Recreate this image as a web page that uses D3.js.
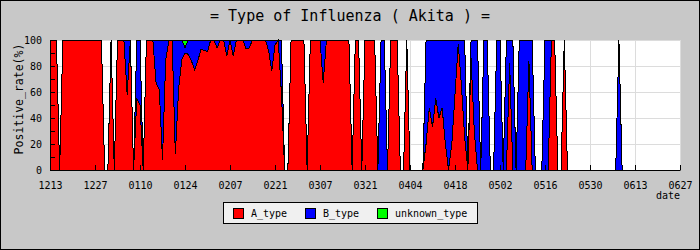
<!DOCTYPE html>
<html><head><meta charset="utf-8">
<script src="https://cdn.jsdelivr.net/npm/d3@7"></script>
<style>body{margin:0;background:#c8c8c8}svg{display:block}</style>
</head><body><svg id="c" width="700" height="250"></svg>
<script>
// ---- data (one value per day, starting 12/13) ----
const tickLabels = ["1213","1227","0110","0124","0207","0221","0307","0321","0404","0418","0502","0516","0530","0613","0627"];
const seriesNames = ["A_type","B_type","unknown_type"];
const seriesColors = ["#ff0000","#0000ff","#00ff00"];

const aType = [
  100,100,100,0,100,100,100,100,100,100,100,100,100,100,
  100,100,100,0,0,100,0,100,100,100,58,100,0,55,
  50,0,100,100,100,67,62,8,85,100,100,12,62,85,
  90,89,84,77,84,93,92,91,100,100,94,100,100,88,
  100,88,100,100,100,93,94,100,100,100,100,100,92,76,
  96,100,59,0,0,100,100,100,100,100,0,100,100,100,
  100,67,100,100,100,100,100,100,100,100,0,100,100,0,
  100,100,100,100,0,0,0,0,100,100,100,0,0,100,
  0,0,0,0,0,20,48,33,55,40,48,20,0,20,
  58,97,65,25,0,86,30,0,0,0,0,0,0,0,
  0,0,0,82,0,0,0,0,0,84,0,0,0,0,
  0,0,100,100,0,0,100,0,0,0,0,0,0,0,
  0,0,0,0,0,0,0,0,0,0,0,0,0,0,
  0,0,0,0,0,0,0,0,0,0,0,0,0,0,
  0
];
const bType = [
  0,0,0,0,0,0,0,0,0,0,0,0,0,0,
  0,0,0,0,0,0,0,0,0,0,42,0,0,45,
  50,0,0,0,0,33,38,92,15,0,0,88,38,15,
  4,11,16,23,16,7,8,9,0,0,6,0,0,12,
  0,12,0,0,0,7,6,0,0,0,0,0,8,24,
  4,0,41,0,0,0,0,0,0,0,0,0,0,0,
  0,33,0,0,0,0,0,0,0,0,0,0,0,0,
  0,0,0,0,0,100,100,0,0,0,0,0,0,0,
  0,0,0,0,0,80,52,67,45,60,52,80,100,80,
  42,3,35,75,0,14,70,100,0,100,100,0,0,100,
  100,0,100,18,100,0,100,100,100,16,100,0,0,0,
  100,100,0,0,0,0,0,0,0,0,0,0,0,0,
  0,0,0,0,0,0,0,0,0,100,0,0,0,0,
  0,0,0,0,0,0,0,0,0,0,0,0,0,0,
  0
];
const unknownType = [
  0,0,0,0,0,0,0,0,0,0,0,0,0,0,
  0,0,0,0,0,0,0,0,0,0,0,0,0,0,
  0,0,0,0,0,0,0,0,0,0,0,0,0,0,
  6,0,0,0,0,0,0,0,0,0,0,0,0,0,
  0,0,0,0,0,0,0,0,0,0,0,0,0,0,
  0,0,0,0,0,0,0,0,0,0,0,0,0,0,
  0,0,0,0,0,0,0,0,0,0,0,0,0,0,
  0,0,0,0,0,0,0,0,0,0,0,0,0,0,
  0,0,0,0,0,0,0,0,0,0,0,0,0,0,
  0,0,0,0,0,0,0,0,0,0,0,0,0,0,
  0,0,0,0,0,0,0,0,0,0,0,0,0,0,
  0,0,0,0,0,0,0,0,0,0,0,0,0,0,
  0,0,0,0,0,0,0,0,0,0,0,0,0,0,
  0,0,0,0,0,0,0,0,0,0,0,0,0,0,
  0
];
const yTicks = [0,20,40,60,80,100];
const yMinorTicks = [0,10,20,30,40,50,60,70,80,90,100];

// ---- drawing ----
const FONT = "'DejaVu Sans Mono', 'Liberation Mono', monospace";
const svg = d3.select("#c");
const nDays = aType.length - 1;
const x = d3.scaleLinear().domain([0, nDays]).range([50, 680]);
const y = d3.scaleLinear().domain([0, 100]).range([170, 40]);
const tickDays = tickLabels.map((_, i) => i * 14);

svg.append("rect").attr("x",0.5).attr("y",0.5).attr("width",699).attr("height",249)
  .attr("fill","#c8c8c8").attr("stroke","#000");

svg.append("rect").attr("x",x(0)).attr("y",y(100)).attr("width",x(nDays)-x(0)).attr("height",y(0)-y(100))
  .attr("fill","#fff");

// grid
const grid = svg.append("g").attr("stroke","#dcdcdc").attr("shape-rendering","crispEdges");
grid.selectAll("line.h").data(yTicks.filter(v=>v>0)).join("line")
  .attr("x1",x(0)).attr("x2",x(nDays)).attr("y1",d=>y(d)+0.5).attr("y2",d=>y(d)+0.5);
grid.selectAll("line.v").data(tickDays.filter(v=>v>0)).join("line")
  .attr("x1",d=>x(d)+0.5).attr("x2",d=>x(d)+0.5).attr("y1",y(100)).attr("y2",y(0));

// stacked areas
const rows = aType.map((a,i)=>({day:i, A:a, B:bType[i], U:unknownType[i]}));
const layers = d3.stack().keys(["A","B","U"])(rows);
const area = d3.area().x(d=>x(d.data.day)).y0(d=>y(d[0])).y1(d=>y(d[1])).curve(d3.curveLinear);
svg.append("g").selectAll("path").data(layers).join("path")
  .attr("d", area)
  .attr("fill", (d,i)=>seriesColors[i])
  .attr("stroke","#000").attr("stroke-width",1)
  .attr("shape-rendering","crispEdges");

// axes
const yAxis = d3.axisLeft(y).tickValues(yTicks).tickSizeInner(-5).tickSizeOuter(0).tickPadding(8);
const gy = svg.append("g").attr("transform",`translate(${x(0)},0)`).call(yAxis);
gy.selectAll("text").attr("font-family",FONT).attr("font-size",10).attr("fill","#000");
gy.selectAll("line,path").attr("stroke","#000");
gy.append("g").selectAll("line").data(yMinorTicks).join("line")
  .attr("x1",0.5).attr("x2",5).attr("y1",d=>y(d)+0.5).attr("y2",d=>y(d)+0.5).attr("stroke","#000");

const xAxis = d3.axisBottom(x).tickValues(tickDays).tickFormat((d,i)=>tickLabels[i])
  .tickSizeInner(-5).tickSizeOuter(0).tickPadding(12);
const gx = svg.append("g").attr("transform",`translate(0,${y(0)})`).call(xAxis);
gx.selectAll("text").attr("font-family",FONT).attr("font-size",10).attr("fill","#000");
gx.selectAll("line,path").attr("stroke","#000");

// labels
svg.append("text").attr("x",350).attr("y",21).attr("text-anchor","middle")
  .attr("font-family",FONT).attr("font-size",15).text("= Type of Influenza ( Akita ) =");
svg.append("text").attr("transform","translate(22.5,99) rotate(-90)").attr("text-anchor","middle")
  .attr("font-family",FONT).attr("font-size",11.5).text("Positive_rate(%)");
svg.append("text").attr("x",680).attr("y",199).attr("text-anchor","end")
  .attr("font-family",FONT).attr("font-size",10).text("date");

// legend
const lg = svg.append("g");
lg.append("rect").attr("x",223.5).attr("y",202.5).attr("width",254).attr("height",21)
  .attr("fill","#f0f0f0").attr("stroke","#000");
const items = lg.selectAll("g.item").data(seriesNames).join("g")
  .attr("transform",(d,i)=>`translate(${233 + i*72},0)`);
items.append("rect").attr("x",0.5).attr("y",208.5).attr("width",10).attr("height",10)
  .attr("fill",(d,i)=>seriesColors[i]).attr("stroke","#000");
items.append("text").attr("x",18).attr("y",217).attr("font-family",FONT).attr("font-size",10)
  .text(d=>d);
</script>
</body></html>
